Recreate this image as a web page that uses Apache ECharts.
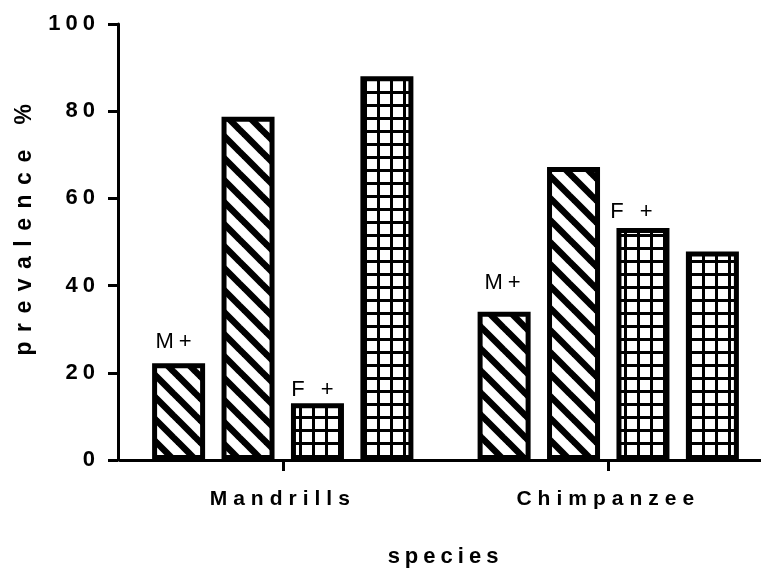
<!DOCTYPE html>
<html>
<head>
<meta charset="utf-8">
<script src="https://cdn.jsdelivr.net/npm/echarts@6/dist/echarts.min.js"></script>
<style>html,body{margin:0;padding:0;background:#fff;}#main{width:761px;height:570px;}</style>
</head>
<body>
<div id="main"></div>
<script>
// ---- data ----
var categories = ['Mandrills', 'Chimpanzee'];
var seriesNames = ['M+ a', 'M+ b', 'F+ a', 'F+ b'];
var valuesM1 = [22.2, 34];
var valuesM2 = [78.7, 67.2];
var valuesF1 = [13, 53.2];
var valuesF2 = [88, 47.8];
var yTicks = [0, 20, 40, 60, 80, 100];
var labelM = 'M+';
var labelF = 'F +';

// letter spacing for canvas text (reference uses spaced lettering)
(function () {
  var spacing = { 'n22': 5, 'b22': 5, 'b21': 6, 'b23': 9.5 };
  var proto = CanvasRenderingContext2D.prototype;
  ['fillText', 'strokeText'].forEach(function (fn) {
    var orig = proto[fn];
    proto[fn] = function () {
      try {
        var f = this.font || '';
        var m = f.match(/(\d+(?:\.\d+)?)px/);
        var key = (/bold|700/.test(f) ? 'b' : 'n') + (m ? Math.round(parseFloat(m[1])) : '');
        this.letterSpacing = (spacing[key] != null ? spacing[key] : 0) + 'px';
      } catch (e) {}
      return orig.apply(this, arguments);
    };
  });
})();

function hatchPattern() {
  var s = 22, c = document.createElement('canvas');
  c.width = s; c.height = s;
  var g = c.getContext('2d');
  g.fillStyle = '#fff'; g.fillRect(0, 0, s, s);
  g.strokeStyle = '#000'; g.lineWidth = 6.5;
  for (var k = -1; k <= 1; k++) {
    g.beginPath(); g.moveTo(k * s - 2, -2); g.lineTo(k * s + s + 2, s + 2); g.stroke();
  }
  return c;
}
function gridPattern() {
  var s = 13, c = document.createElement('canvas');
  c.width = s; c.height = s;
  var g = c.getContext('2d');
  g.fillStyle = '#fff'; g.fillRect(0, 0, s, s);
  g.fillStyle = '#000';
  g.fillRect(0, 0, 3, s);
  g.fillRect(0, 0, s, 3);
  return c;
}
var hatch = { image: hatchPattern(), repeat: 'repeat' };
var grid = { image: gridPattern(), repeat: 'repeat' };

var FONT = "'Liberation Sans', Arial, Helvetica, sans-serif";

function withLabels(values, text, dists, offs) {
  return values.map(function (v, i) {
    return {
      value: v,
      label: {
        show: true, formatter: text, position: 'top',
        distance: dists[i], offset: [offs[i], 0],
        fontFamily: FONT, fontSize: 22, color: '#000'
      }
    };
  });
}

var itemBase = { borderColor: '#000', borderWidth: 5 };
var BW = 53, GAP = '31%';

var chart = echarts.init(document.getElementById('main'), null, { renderer: 'canvas' });
chart.setOption({
  animation: false,
  backgroundColor: '#fff',
  grid: { left: 120, right: -10, top: 24, bottom: 110, containLabel: false, outerBoundsMode: 'none' },
  xAxis: {
    type: 'category',
    data: categories,
    name: 'species',
    nameLocation: 'middle',
    nameGap: 86,
    nameTextStyle: { fontFamily: FONT, fontSize: 22, fontWeight: 'bold', color: '#000' },
    axisLine: { lineStyle: { color: '#000', width: 3 } },
    axisTick: { show: true, alignWithLabel: true, length: 11, lineStyle: { color: '#000', width: 3 } },
    axisLabel: { fontFamily: FONT, fontSize: 21, fontWeight: 'bold', color: '#000', margin: 29 },
    splitLine: { show: false }
  },
  yAxis: {
    type: 'value',
    offset: 2,
    min: yTicks[0], max: yTicks[yTicks.length - 1], interval: yTicks[1] - yTicks[0],
    name: 'prevalence %',
    nameLocation: 'middle',
    nameGap: 82,
    nameTextStyle: { fontFamily: FONT, fontSize: 23, fontWeight: 'bold', color: '#000', padding: [0, 0, 0, 34] },
    axisLine: { show: true, lineStyle: { color: '#000', width: 3 } },
    axisTick: { show: true, length: 10, lineStyle: { color: '#000', width: 3 } },
    axisLabel: { fontFamily: FONT, fontSize: 22, fontWeight: 'bold', color: '#000', margin: 18 },
    splitLine: { show: false }
  },
  series: [
    { name: seriesNames[0], type: 'bar', barWidth: BW, barGap: GAP,
      itemStyle: Object.assign({ color: hatch }, itemBase),
      data: withLabels(valuesM1, labelM, [10, 18], [-2.5, 1]) },
    { name: seriesNames[1], type: 'bar', barWidth: BW, barGap: GAP,
      itemStyle: Object.assign({ color: hatch }, itemBase),
      data: valuesM2 },
    { name: seriesNames[2], type: 'bar', barWidth: BW, barGap: GAP,
      itemStyle: Object.assign({ color: grid }, itemBase),
      data: withLabels(valuesF1, labelF, [2, 5], [-2.5, -9]) },
    { name: seriesNames[3], type: 'bar', barWidth: BW, barGap: GAP,
      itemStyle: Object.assign({ color: grid }, itemBase),
      data: valuesF2 }
  ]
});
</script>
</body>
</html>
